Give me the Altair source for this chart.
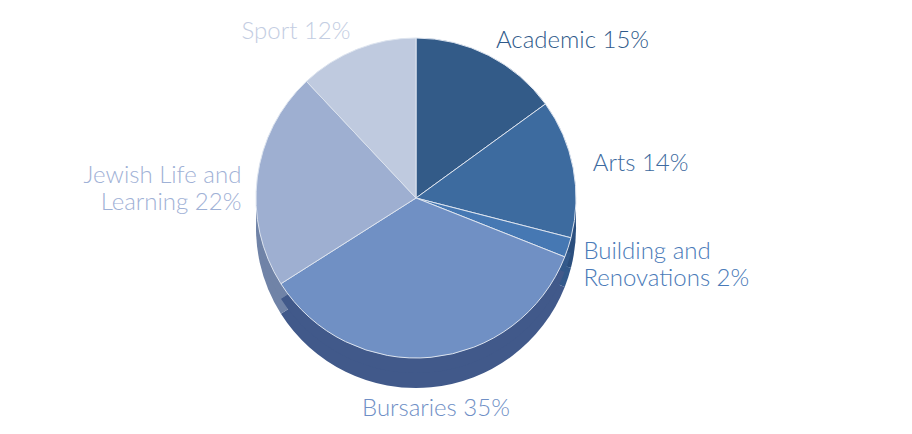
import altair as alt
import pandas as pd

categories = ["Academic", "Arts", "Building and Renovations", "Bursaries", "Jewish Life and Learning", "Sport"]
values = [15, 14, 2, 35, 22, 12]
labels = [["Academic 15%"], ["Arts 14%"], ["Building and", "Renovations 2%"], ["Bursaries 35%"],
          ["Jewish Life and", "Learning 22%"], ["Sport 12%"]]
top_colors = ["#335b88", "#3d6b9f", "#4678b3", "#7090c4", "#9eafd1", "#bfcadf"]
side_colors = ["#22406a", "#2b4f7e", "#33598a", "#41598a", "#7083a7", "#8e9cb8"]
text_colors = ["#2f5a8a", "#3d6aa0", "#4a7ab8", "#6f8fc6", "#9fb1d6", "#c3cde2"]

df = pd.DataFrame({
    "cat": categories,
    "value": values,
    "idx": list(range(len(categories))),
    "label": labels,
})

CX, CY, R, DEPTH = 408, 190, 160, 30
theta_scale = alt.Scale(domain=[0, 100], range=[0, 6.283185307])

base = alt.Chart(df)

def pie(colors, y, stroke=None):
    mk = dict(radius=R)
    if stroke:
        mk.update(stroke=stroke, strokeWidth=1)
    return base.mark_arc(**mk).encode(
        theta=alt.Theta("value:Q", stack=True, scale=theta_scale),
        order=alt.Order("idx:Q"),
        color=alt.Color("cat:N", scale=alt.Scale(domain=categories, range=colors), legend=None),
        x=alt.value(CX),
        y=alt.value(y),
    )

side = alt.layer(pie(side_colors, CY + DEPTH), pie(side_colors, CY + DEPTH // 2))
top = pie(top_colors, CY, stroke="#dde4ef")

stacked = base.transform_stack(
    stack="value", as_=["v0", "v1"], groupby=[], sort=[alt.SortField("idx")]
).transform_calculate(mid="(datum.v0 + datum.v1) / 2")

def label(cat, radius, align):
    i = categories.index(cat)
    return stacked.transform_filter(alt.datum.cat == cat).mark_text(
        radius=radius, align=align, baseline="middle", font="Lato", fontSize=24,
        fontWeight=300, lineHeight=27, color=text_colors[i],
    ).encode(
        theta=alt.Theta("mid:Q", scale=theta_scale),
        text="label",
        x=alt.value(CX),
        y=alt.value(CY),
    )

texts = alt.layer(
    label("Academic", 176, "left"),
    label("Arts", 180, "left"),
    label("Building and Renovations", 176, "left"),
    label("Bursaries", 212, "center"),
    label("Jewish Life and Learning", 176, "right"),
    label("Sport", 178, "right"),
)

chart = alt.layer(side, top, texts).resolve_scale(color="independent").properties(
    width=896, height=418, padding=0, autosize=alt.AutoSizeParams(type="none")
).configure_view(stroke=None)

chart.save("out.html", embed_options={"renderer": "svg", "actions": False})
